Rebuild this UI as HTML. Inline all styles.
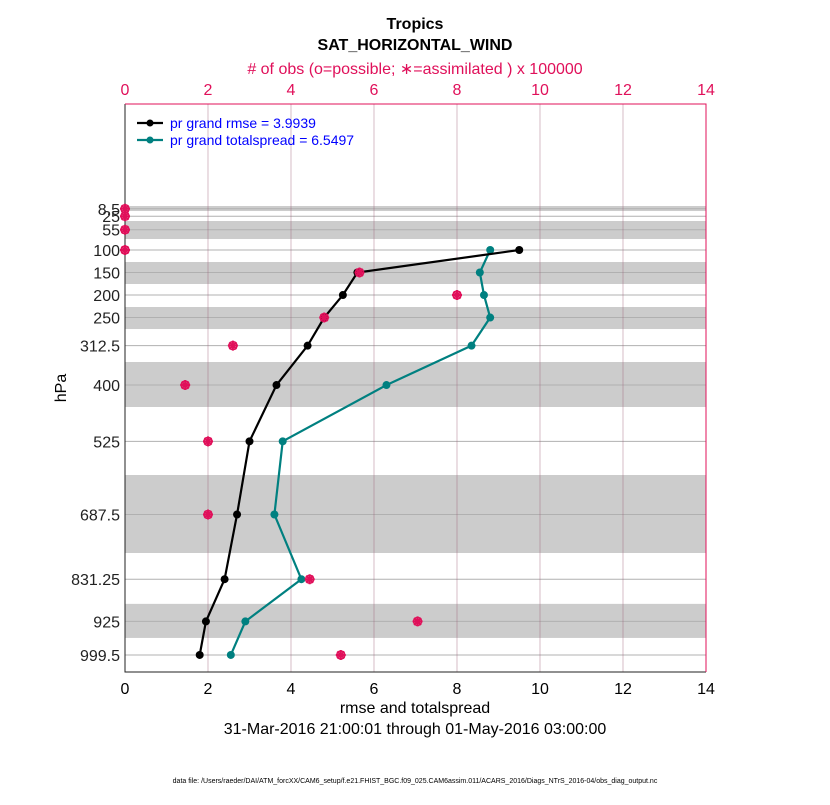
<!DOCTYPE html>
<html><head><meta charset="utf-8"><style>
body{margin:0;background:#fff;}
svg text{font-family:"Liberation Sans",sans-serif;}
</style></head><body>
<svg id="chart" width="830" height="800" xmlns="http://www.w3.org/2000/svg">
<text x="415" y="29" text-anchor="middle" font-size="16" font-weight="bold">Tropics</text>
<text x="415" y="50" text-anchor="middle" font-size="16" font-weight="bold">SAT_HORIZONTAL_WIND</text>
<text x="415" y="74" text-anchor="middle" font-size="16" fill="#e0105a"># of obs (o=possible; ∗=assimilated ) x 100000</text>
<text x="415" y="713" text-anchor="middle" font-size="16">rmse and totalspread</text>
<text x="415" y="734" text-anchor="middle" font-size="16">31-Mar-2016 21:00:01 through 01-May-2016 03:00:00</text>
<text transform="translate(66,388) rotate(-90)" text-anchor="middle" font-size="16">hPa</text>
<text x="415" y="783" text-anchor="middle" font-size="7">data file: /Users/raeder/DAI/ATM_forcXX/CAM6_setup/f.e21.FHIST_BGC.f09_025.CAM6assim.011/ACARS_2016/Diags_NTrS_2016-04/obs_diag_output.nc</text>
<g id="plot"></g>
</svg>
<script>
const levels=[8.5,25,55,100,150,200,250,312.5,400,525,687.5,831.25,925,999.5];
const levelLabels=["8.5","25","55","100","150","200","250","312.5","400","525","687.5","831.25","925","999.5"];
const rmseLevels=[100,150,200,250,312.5,400,525,687.5,831.25,925,999.5];
const rmse=[9.5,5.6,5.25,4.8,4.4,3.65,3.0,2.7,2.4,1.95,1.8];
const spread=[8.8,8.55,8.65,8.8,8.35,6.3,3.8,3.6,4.25,2.9,2.55];
const obsCount=[0,0,0,0,5.65,8.0,4.8,2.6,1.45,2.0,2.0,4.45,7.05,5.2];
const bandEdges=[[2.3,13.4],[35.6,75.6],[126.7,175.5],[226.6,275.5],[348.8,448.7],[599.8,773],[886,961.7]];
const xTicks=[0,2,4,6,8,10,12,14];

const NS="http://www.w3.org/2000/svg";
const g=document.getElementById('plot');
const L=125,R=706,T=104,B=672;
const xs=v=>L+(v/14)*(R-L);
const ys=p=>250+(p-100)*0.4502;
function mk(tag,a){const e=document.createElementNS(NS,tag);for(const k in a)e.setAttribute(k,a[k]);g.appendChild(e);return e;}
bandEdges.forEach(b=>{const r=mk('rect',{x:L,y:ys(b[0]),width:R-L,height:ys(b[1])-ys(b[0]),fill:'#cccccc'});

});
levels.forEach((p,i)=>{const l=mk('line',{x1:L,x2:R,y1:ys(p),y2:ys(p),stroke:'#b0b0b0','stroke-width':1});


const t=mk('text',{x:L-5,y:ys(p)+6,'text-anchor':'end','font-size':16,fill:'#222'});t.textContent=levelLabels[i];

});
xTicks.forEach(v=>{const l=mk('line',{x1:xs(v),x2:xs(v),y1:T,y2:B,stroke:'#a0607a','stroke-width':0.6,opacity:0.7});


const t=mk('text',{x:xs(v),y:B+22,'text-anchor':'middle','font-size':16});t.textContent=v;


const t2=mk('text',{x:xs(v),y:T-9,'text-anchor':'middle','font-size':16,fill:'#e0105a'});t2.textContent=v;

});
const ax=mk('path',{d:`M${L} ${T}V${B}H${R}`,fill:'none',stroke:'#222','stroke-width':1});


const tp=mk('path',{d:`M${L} ${T}H${R}V${B}`,fill:'none',stroke:'#e0105a','stroke-width':1});


function series(vals,color,name){
  const pts=vals.map((v,i)=>xs(v)+','+ys(rmseLevels[i])).join(' ');
  const pl=mk('polyline',{points:pts,fill:'none',stroke:color,'stroke-width':2.2});
  
  
  vals.forEach((v,i)=>{const c=mk('circle',{cx:xs(v),cy:ys(rmseLevels[i]),r:4,fill:color});
  
  });
}
series(spread,'#008080','spread');
series(rmse,'#000000','rmse');
obsCount.forEach((v,i)=>{const x=xs(v),y=ys(levels[i]);
  const c=mk('circle',{cx:x,cy:y,r:4,fill:'none',stroke:'#e0105a','stroke-width':1.5});
  
  
  const s=mk('path',{d:`M${x-5} ${y}H${x+5}M${x} ${y-5}V${y+5}M${x-3.5} ${y-3.5}L${x+3.5} ${y+3.5}M${x-3.5} ${y+3.5}L${x+3.5} ${y-3.5}`,stroke:'#e0105a','stroke-width':2});
  
  });
const lg=mk('g',{});


[[ '#000','pr grand rmse = 3.9939',123],['#008080','pr grand totalspread = 6.5497',140]].forEach(d=>{
  const l=mk('line',{x1:137,x2:163,y1:d[2],y2:d[2],stroke:d[0],'stroke-width':2.2});
  
  
  const c=mk('circle',{cx:150,cy:d[2],r:3.5,fill:d[0]});
  
  
  const t=mk('text',{x:170,y:d[2]+5,'font-size':14,fill:'#0000ff'});t.textContent=d[1];
  
  
});
</script>
</body></html>
